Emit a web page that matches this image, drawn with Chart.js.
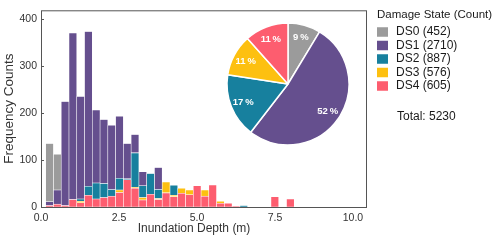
<!DOCTYPE html>
<html>
<head>
<meta charset="utf-8">
<script src="https://cdn.jsdelivr.net/npm/chart.js@4.4.1/dist/chart.umd.min.js"></script>
<style>
  html, body { margin: 0; padding: 0; background: #fff; }
  #wrap { position: relative; width: 500px; height: 240px; }
  #hist { position: absolute; left: 0; top: 0; }
  #pie { position: absolute; left: 223px; top: 19px; }
</style>
</head>
<body>
<div id="wrap">
  <canvas id="hist" width="500" height="240"></canvas>
  <canvas id="pie" width="130" height="130"></canvas>
</div>
<script>
// histogram bins (inundation depth, m)
const binStart = 0.15;
const binWidth = 0.249;

// counts per bin, one array per damage state
const ds0 = [124, 76, 0, 0, 0, 0, 0, 0, 0, 0, 0, 0, 0, 0, 0, 0, 0, 0, 0, 0, 0, 0, 0, 0, 0, 0, 0, 0, 0, 0, 0, 0];
const ds1 = [8, 30, 221, 354, 218, 329, 155, 136, 137, 132, 75, 39, 30, 0, 47, 0, 0, 0, 0, 0, 0, 0, 0, 0, 0, 0, 0, 0, 0, 0, 0, 0];
const ds2 = [0, 0, 0, 0, 5, 19, 34, 30, 14, 25, 2, 73, 25, 44, 19, 0, 21, 0, 0, 0, 0, 0, 0, 0, 0, 3, 0, 0, 0, 0, 0, 0];
const ds3 = [0, 0, 0, 0, 3, 0, 0, 0, 0, 5, 0, 2, 5, 0, 2, 23, 3, 11, 10, 0, 13, 0, 4, 0, 0, 0, 0, 0, 0, 0, 0, 0];
const ds4 = [3, 6, 3, 16, 9, 25, 17, 20, 23, 31, 58, 40, 15, 27, 16, 30, 22, 29, 26, 45, 23, 47, 8, 8, 2, 0, 0, 0, 0, 22, 0, 17];

const states = ['DS0', 'DS1', 'DS2', 'DS3', 'DS4'];
const stateCounts = [452, 2710, 887, 576, 605];
const pieLabels = ['9\u2009%', '52\u2009%', '17\u2009%', '11\u2009%', '11\u2009%'];
const totalCount = 5230;

const xTicks = [0, 2.5, 5, 7.5, 10];
const yTicks = [0, 100, 200, 300, 400];

const colors = ['#9b9b9b', '#654f8e', '#17809e', '#fdc010', '#fd5d6f'];
const font = "'Liberation Sans', Arial, sans-serif";

const seriesByState = [ds0, ds1, ds2, ds3, ds4];

function toPoints(values) {
  return values.map((v, i) => ({ x: binStart + binWidth * (i + 0.5), y: v }));
}

// DS4 at the bottom of the stack, DS0 on top
const barDatasets = [4, 3, 2, 1, 0].map(k => ({
  label: states[k],
  data: toPoints(seriesByState[k]),
  backgroundColor: colors[k],
  borderColor: 'rgba(255,255,255,0.6)',
  borderWidth: 0.6,
  borderSkipped: false,
  barPercentage: 1,
  categoryPercentage: 1
}));

const framePlugin = {
  id: 'frame',
  afterDraw(chart) {
    const { ctx, chartArea: a, scales } = chart;
    ctx.save();
    ctx.strokeStyle = '#555';
    ctx.lineWidth = 1;
    ctx.strokeRect(a.left + 0.5, a.top + 0.5, a.right - a.left - 1, a.bottom - a.top);
    // short inward ticks on y axis
    yTicks.forEach(v => {
      const y = Math.round(scales.y.getPixelForValue(v)) + 0.5;
      ctx.beginPath();
      ctx.moveTo(a.left, y);
      ctx.lineTo(a.left + 3, y);
      ctx.stroke();
    });

    // x axis title
    ctx.fillStyle = '#333';
    ctx.textAlign = 'center';
    ctx.textBaseline = 'middle';
    ctx.font = '12px ' + font;
    ctx.fillText('Inundation Depth (m)', 194, 229);

    // legend
    ctx.fillStyle = '#1a1a1a';
    ctx.textAlign = 'left';
    ctx.font = '11.5px ' + font;
    ctx.fillText('Damage State (Count)', 377, 15);
    ctx.font = '12px ' + font;
    states.forEach((s, i) => {
      const cy = 32 + i * 13.5;
      ctx.fillStyle = colors[i];
      ctx.fillRect(377, cy - 4.75, 11, 9.5);
      ctx.fillStyle = '#1a1a1a';
      ctx.fillText(`${s} (${stateCounts[i]})`, 396, cy);
    });
    ctx.fillText(`Total: ${totalCount}`, 397, 117);
    ctx.restore();
  }
};

new Chart(document.getElementById('hist'), {
  type: 'bar',
  data: { datasets: barDatasets },
  options: {
    responsive: false,
    animation: false,
    layout: { padding: { left: 0, top: 7, right: 133, bottom: 0 } },
    plugins: { legend: { display: false }, tooltip: { enabled: false } },
    scales: {
      x: {
        type: 'linear',
        stacked: true,
        offset: false,
        min: 0,
        max: 10.45,
        afterBuildTicks: s => { s.ticks = xTicks.map(v => ({ value: v })); },
        afterFit: s => { s.height = 33; },
        grid: { display: false, drawTicks: false, offset: false },
        border: { display: false },
        ticks: {
          padding: 5,
          color: '#333',
          font: { family: font, size: 10.5 },
          callback: v => v.toFixed(1)
        }
      },
      y: {
        stacked: true,
        min: 0,
        max: 418,
        afterBuildTicks: s => { s.ticks = yTicks.map(v => ({ value: v })); },
        afterFit: s => { s.width = 41; },
        grid: { display: false, drawTicks: false },
        border: { display: false },
        ticks: {
          padding: 4,
          color: '#333',
          font: { family: font, size: 10.5 }
        },
        title: {
          display: true,
          text: 'Frequency Counts',
          color: '#333',
          font: { family: font, size: 13.5 },
          padding: { top: 1, bottom: 0 }
        }
      }
    }
  },
  plugins: [framePlugin]
});

const pctPlugin = {
  id: 'pct',
  afterDatasetsDraw(chart) {
    const { ctx } = chart;
    const arcs = chart.getDatasetMeta(0).data;
    ctx.save();
    ctx.fillStyle = '#fff';
    ctx.font = 'bold 9.5px ' + font;
    ctx.textAlign = 'center';
    ctx.textBaseline = 'middle';
    arcs.forEach((arc, i) => {
      const p = arc.getProps(['x', 'y', 'startAngle', 'endAngle', 'outerRadius'], true);
      const mid = (p.startAngle + p.endAngle) / 2;
      const r = p.outerRadius * 0.79;
      ctx.fillText(pieLabels[i], p.x + Math.cos(mid) * r, p.y + Math.sin(mid) * r);
    });
    ctx.restore();
  }
};

new Chart(document.getElementById('pie'), {
  type: 'pie',
  data: {
    labels: states,
    datasets: [{
      data: stateCounts,
      backgroundColor: colors,
      borderColor: '#fff',
      borderWidth: 1.5
    }]
  },
  options: {
    responsive: false,
    animation: false,
    radius: 61,
    layout: { padding: 0 },
    plugins: { legend: { display: false }, tooltip: { enabled: false } }
  },
  plugins: [pctPlugin]
});
</script>
</body>
</html>
